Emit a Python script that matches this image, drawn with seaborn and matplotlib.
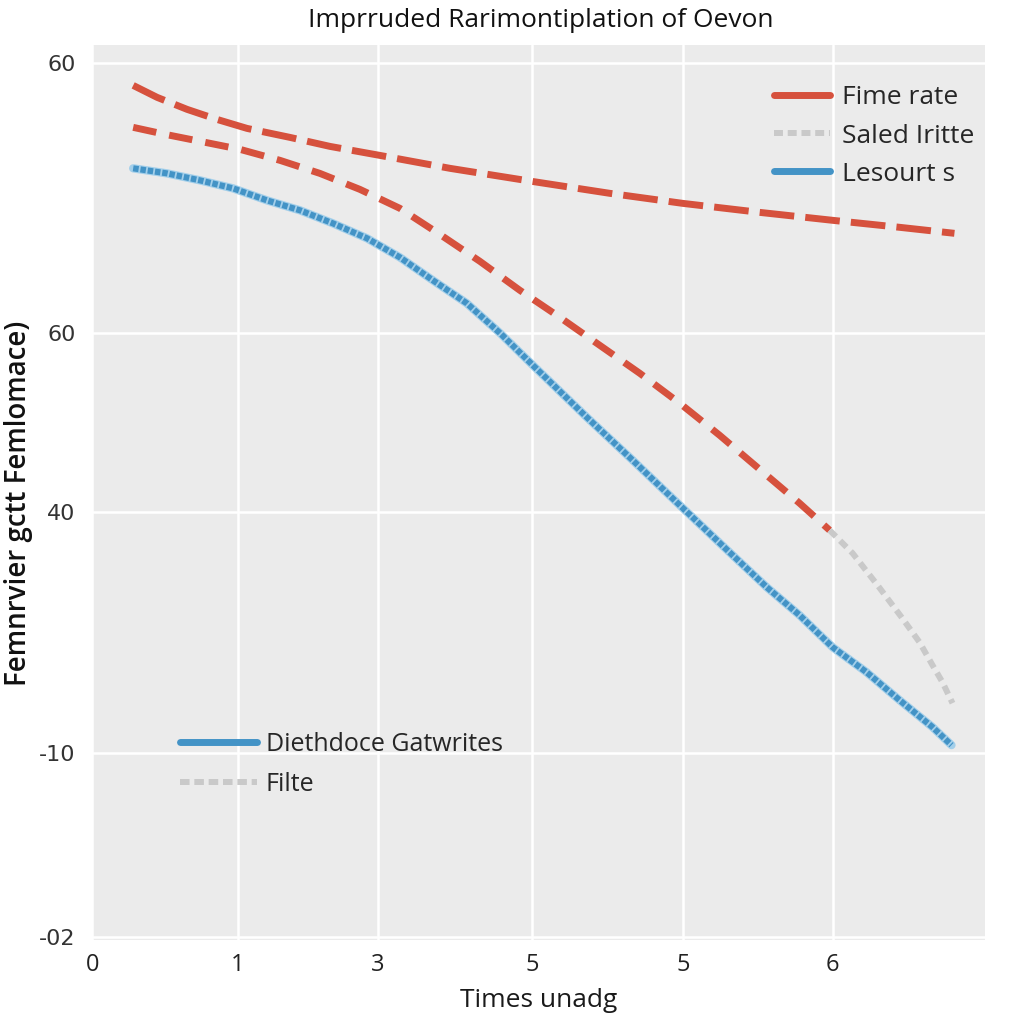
import numpy as np
import pandas as pd
import seaborn as sns
import matplotlib
matplotlib.use("Agg")
import matplotlib.pyplot as plt
from matplotlib.lines import Line2D

# ---------------- data ----------------
title = "Imprruded Rarimontiplation of Oevon"
x_label = "Times unadg"
y_label = "Femnrvier gctt Femlomace)"

x_tick_pos = [0, 0.985, 1.93, 2.97, 3.99, 5.0]
x_tick_labels = ["0", "1", "3", "5", "5", "6"]
y_tick_pos = [0, 21.05, 48.6, 69.1, 100]
y_tick_labels = ["-02", "-10", "40", "60", "60"]

fime_x = [0.277, 0.439, 0.641, 0.843, 1.046, 1.336, 1.606, 1.943, 2.416,
          2.969, 3.495, 3.988, 4.507, 5.000, 5.452, 5.823]
fime_y = [97.48, 96.11, 94.74, 93.59, 92.56, 91.53, 90.50, 89.47, 87.99,
          86.50, 85.13, 83.98, 82.95, 82.04, 81.24, 80.55]

saled_x = [0.277, 0.493, 0.729, 0.999, 1.269, 1.538, 1.808, 2.078, 2.348,
           2.618, 2.888, 3.158, 3.428, 3.698, 3.968, 4.237, 4.507, 4.777, 4.980]
saled_y = [92.68, 91.88, 91.08, 90.16, 88.90, 87.41, 85.58, 83.41, 80.43,
           77.35, 74.03, 70.94, 67.73, 64.53, 61.10, 57.44, 53.55, 49.66, 46.57]

filte_x = [4.980, 5.135, 5.304, 5.466, 5.587, 5.675, 5.742, 5.810]
filte_y = [46.57, 43.94, 40.27, 36.61, 33.75, 31.12, 29.18, 26.77]

lesour_x = [0.277, 0.506, 0.729, 0.951, 1.181, 1.404, 1.626, 1.856, 2.078,
            2.301, 2.530, 2.753, 2.976, 3.340, 3.650, 3.968, 4.325, 4.555,
            4.777, 5.000, 5.229, 5.452, 5.675, 5.803]
lesour_y = [87.99, 87.41, 86.61, 85.70, 84.32, 83.18, 81.69, 79.98, 77.80,
            75.17, 72.54, 69.15, 65.45, 59.50, 54.58, 49.43, 43.71, 40.05,
            36.84, 33.18, 30.32, 27.12, 24.03, 21.97]

legend1_labels = ["Fime rate", "Saled Iritte", "Lesourt s"]
legend2_labels = ["Diethdoce Gatwrites", "Filte"]

# ---------------- style ----------------
RED = "#d6513d"
BLUE = "#4393c6"
BLUE_LIGHT = "#a3cfea"
GRAY = "#c9c9c9"

sns.set_theme(style="darkgrid", rc={
    "axes.facecolor": "#ebebeb",
    "figure.facecolor": "white",
    "grid.color": "white",
    "grid.linewidth": 1.8,
    "axes.edgecolor": "white",
})
plt.rcParams["font.family"] = ["Open Sans", "DejaVu Sans"]

fig = plt.figure(figsize=(10.24, 10.24), dpi=100)
ax = fig.add_axes([0.090, 0.082, 0.872, 0.874])

common = dict(ax=ax, sort=False, dash_joinstyle="round", solid_joinstyle="round")
sns.lineplot(x=fime_x, y=fime_y, color=RED, linewidth=5.0,
             linestyle=(0, (5, 1.6)), **common)
sns.lineplot(x=saled_x, y=saled_y, color=RED, linewidth=5.0,
             linestyle=(0, (3.4, 1.9)), **common)
sns.lineplot(x=filte_x, y=filte_y, color=GRAY, linewidth=4.3,
             linestyle=(0, (1.5, 1.0)), **common)
sns.lineplot(x=lesour_x, y=lesour_y, color=BLUE_LIGHT, linewidth=6.0, **common)
sns.lineplot(x=lesour_x, y=lesour_y, color=BLUE, linewidth=4.4,
             linestyle=(0, (0.9, 0.3)), **common)

ax.set_xlim(0, 6.03)
ax.set_ylim(-0.34, 102.1)
ax.set_xticks(x_tick_pos)
ax.set_xticklabels(x_tick_labels, fontsize=17, color="#222222")
ax.set_yticks(y_tick_pos)
ax.set_yticklabels(y_tick_labels, fontsize=16, color="#333333",
                   family=["DejaVu Sans"])
ax.tick_params(axis="x", pad=9, length=0)
ax.tick_params(axis="y", pad=12, length=0)

ax.set_xlabel(x_label, fontsize=19, color="#1a1a1a", labelpad=8)
ax.set_ylabel("")
fig.text(0.018, 1 - 503 / 1024, y_label, rotation=90, ha="center", va="center",
         fontsize=20, fontweight="semibold", color="#111111")
fig.text(0.528, 0.980, title, ha="center", va="center", fontsize=19,
         color="#111111")

for s in ax.spines.values():
    s.set_visible(False)

# legends
h1 = [Line2D([], [], color=RED, lw=5.0),
      Line2D([], [], color=GRAY, lw=4.3, linestyle=(0, (1.5, 0.8))),
      Line2D([], [], color=BLUE, lw=5.0)]
leg1 = ax.legend(h1, legend1_labels, loc="upper left",
                 bbox_to_anchor=(0.764, 0.955), frameon=False,
                 fontsize=19, handlelength=2.1, handletextpad=0.45,
                 labelspacing=0.5, borderpad=0, borderaxespad=0)
ax.add_artist(leg1)
h2 = [Line2D([], [], color=BLUE, lw=5.0),
      Line2D([], [], color=GRAY, lw=4.3, linestyle=(0, (1.6, 0.8)))]
ax.legend(h2, legend2_labels, loc="upper left",
          bbox_to_anchor=(0.098, 0.233), frameon=False,
          fontsize=18, handlelength=3.1, handletextpad=0.35,
          labelspacing=0.62, borderpad=0, borderaxespad=0)

fig.savefig("out.png", dpi=100)
